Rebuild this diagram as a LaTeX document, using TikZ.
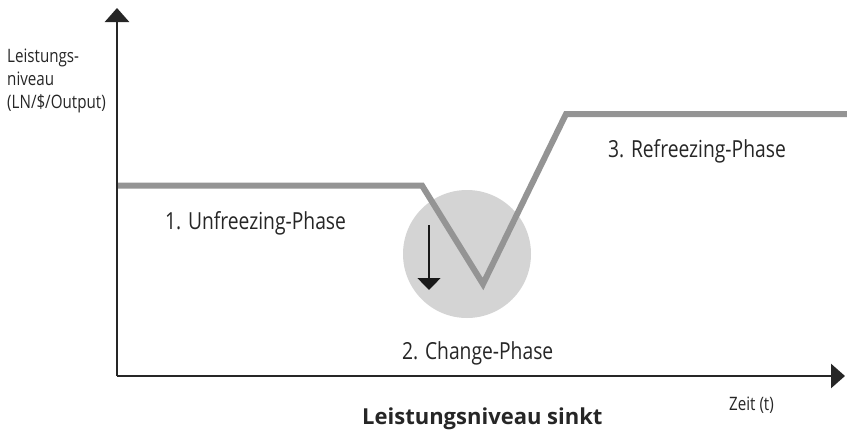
\documentclass[tikz,border=0pt]{standalone}
\usepackage{fontspec}
\setmainfont{Open Sans}[FakeStretch=0.82]
\newfontfamily\titlefont{Open Sans}
\usepackage{tikz}
\usetikzlibrary{arrows.meta}
\usetikzlibrary{positioning}

\begin{document}
\begin{tikzpicture}[x=1pt, y=-1pt,
	axis/.style={line width=2.8pt, draw=black!85, -{Triangle[length=14pt, width=24pt]}},
	level/.style={line width=6pt, draw=black!42, line join=miter},
	phase/.style={font=\fontsize{23.5}{26}\selectfont, text=black!85, inner sep=0pt, anchor=base west},
	small/.style={font=\fontsize{18.5}{20}\selectfont, text=black!85, align=left, inner sep=0pt},
]
\useasboundingbox (0,0) rectangle (847,431);
% axes
\coordinate (O) at (117,376);
\coordinate (ytop) at (117,8);
\coordinate (xend) at (845,376);
% level curve
\coordinate (p0) at (117,185.5);
\coordinate (p1) at (422,185.5);
\coordinate (p2) at (483,284);
\coordinate (p3) at (566,114);
\coordinate (p4) at (847,114);
%
\node [circle, fill=black!17, minimum size=128pt, inner sep=0pt] (dip) at (467,254) {};
\draw [level] (p0) -- (p1) -- (p2) -- (p3) -- (p4);
\coordinate (a1) at (429,225);
\coordinate (a2) at (429,290);
\draw [line width=1.4pt, draw=black!90, -{Triangle[length=12pt, width=23pt]}] (a1) -- (a2);
\draw [axis] (O) -- (ytop);
\draw [axis] (O) -- (xend);
%
\node [small, anchor=base west] (ylab) at (7,108) {Leistungs-\\[3pt]niveau\\[3pt](LN/\$/Output)};
\node [phase] (ph1) at (165,229) {1. Unfreezing-Phase};
\node [phase] (ph2) at (402,359) {2. Change-Phase};
\node [phase] (ph3) at (608,157) {3. Refreezing-Phase};
\node [small, anchor=base west] (xlab) at (729,410) {Zeit (t)};
\node [font=\titlefont\fontsize{22}{24}\selectfont\bfseries, text=black!85, inner sep=0pt, anchor=base west] (title) at (362,424) {Leistungsniveau sinkt};
\end{tikzpicture}
\end{document}
